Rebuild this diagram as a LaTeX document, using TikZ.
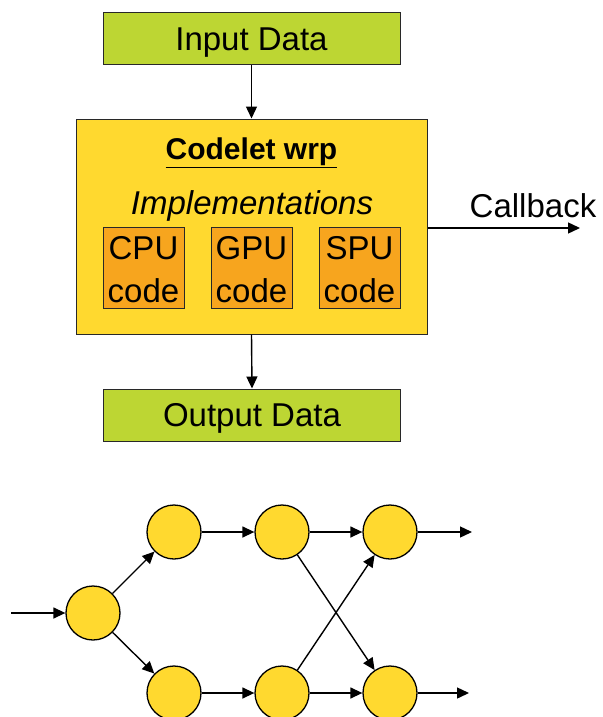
\documentclass[tikz,border=0pt]{standalone}
\usepackage{fontspec}
\setmainfont{Liberation Sans}
\usetikzlibrary{arrows.meta}
\definecolor{limebox}{RGB}{189,214,51}
\definecolor{wrapyellow}{RGB}{255,217,47}
\definecolor{codeorange}{RGB}{247,165,30}
\definecolor{edgegray}{RGB}{40,40,40}
\tikzset{
  x=1pt, y=-1pt,
  bigfont/.style={font=\fontsize{33}{38}\selectfont},
  databox/.style={draw=edgegray, line width=1pt, fill=limebox, minimum width=297pt, minimum height=52pt, inner sep=0pt, text depth=0pt, bigfont},
  wrapbox/.style={draw=edgegray, line width=1pt, fill=wrapyellow, minimum width=351pt, minimum height=215pt, inner sep=0pt},
  codebox/.style={draw=edgegray, line width=1pt, fill=codeorange, minimum width=81pt, minimum height=81pt, inner sep=0pt},
  task/.style={circle, draw=black, line width=1.3pt, fill=wrapyellow, minimum size=54pt, inner sep=0pt},
  flow/.style={draw=black, line width=1.4pt, -{Triangle[length=12pt,width=11pt]}},
}
\begin{document}
\begin{tikzpicture}
\useasboundingbox (0,0) rectangle (602,717);
\clip (0,0) rectangle (602,717);
\fill[white] (0,0) rectangle (602,717);

% codelet wrapper with its data
\node[databox] (in) at (251.5,39) {Input Data};
\node[wrapbox] (codelet) at (251.5,226.5) {};
\node[font=\fontsize{30}{36}\selectfont\bfseries] (title) at (251.5,153) {\underline{Codelet wrp}};
\node[font=\fontsize{33}{38}\selectfont\itshape] (impl) at (252,206) {Implementations};
\node[codebox] (cpu) at (143.5,267.5) {};
\node[codebox] (gpu) at (251.5,267.5) {};
\node[codebox] (spu) at (359.5,267.5) {};
\foreach \b/\t in {cpu/CPU, gpu/GPU, spu/SPU}{
  \node[bigfont] (\b top) at ([yshift=19.5pt]\b.center) {\t};
  \node[bigfont] (\b bot) at ([yshift=-23.5pt]\b.center) {code};
}
\node[databox] (out) at (252,415) {Output Data};
\coordinate (cb) at (580,228);
\node[bigfont] (cblabel) at (533,206) {Callback};

\draw[flow] (in.south) -- (codelet.north);
\draw[flow] (codelet.south) -- (out.north);
\draw[flow] (codelet.east |- cb) -- (cb);

% task graph
\node[task] (n0) at (93,613) {};
\node[task] (t1) at (174,532) {};
\node[task] (t2) at (282,532) {};
\node[task] (t3) at (390,532) {};
\node[task] (b1) at (174,693) {};
\node[task] (b2) at (282,693) {};
\node[task] (b3) at (390,693) {};
\coordinate (src) at (11,613);
\coordinate (outt) at (472,532);
\coordinate (outb) at (469,693);

\draw[flow] (src) -- (n0);
\draw[flow] (n0) -- (t1);
\draw[flow] (n0) -- (b1);
\draw[flow] (t1) -- (t2);
\draw[flow] (b1) -- (b2);
\draw[flow] (t2) -- (t3);
\draw[flow] (b2) -- (b3);
\draw[flow] (t2) -- (b3);
\draw[flow] (b2) -- (t3);
\draw[flow] (t3) -- (outt);
\draw[flow] (b3) -- (outb);
\end{tikzpicture}
\end{document}
